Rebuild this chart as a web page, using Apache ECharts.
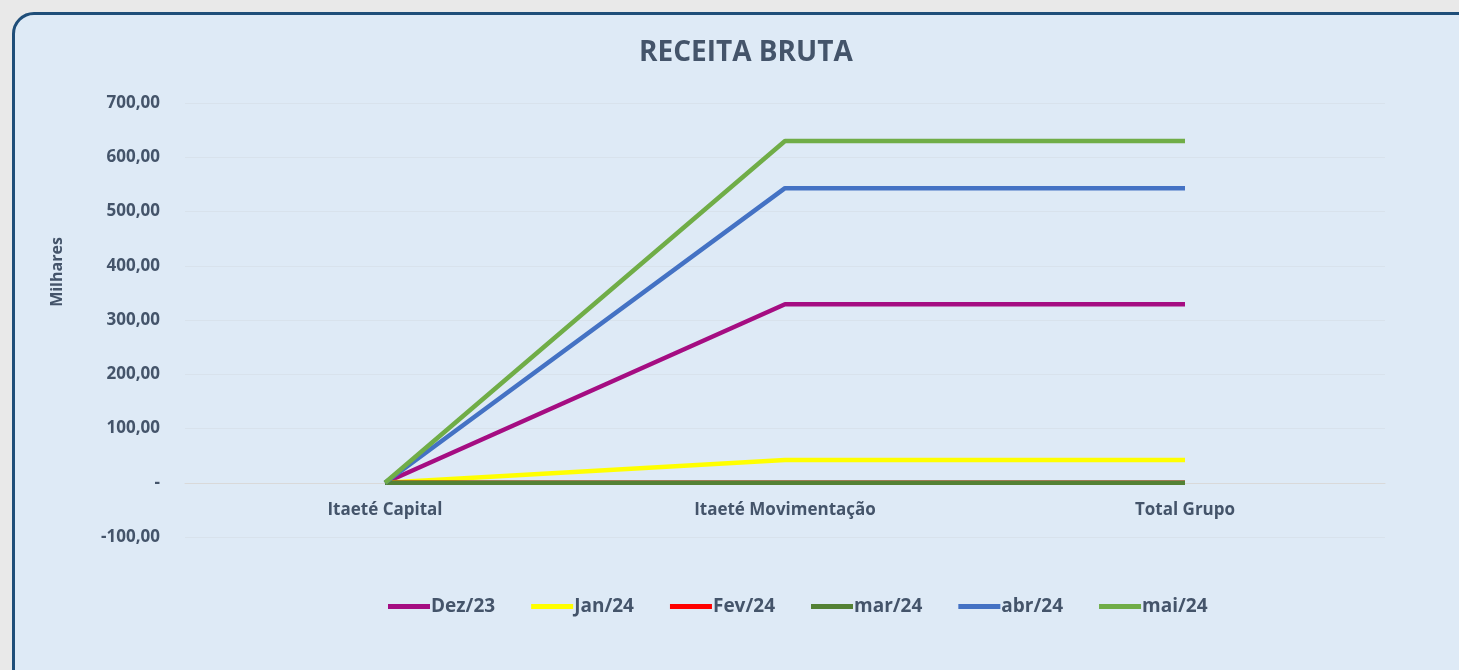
<!DOCTYPE html>
<html><head><meta charset="utf-8">
<script src="https://cdn.jsdelivr.net/npm/echarts@6/dist/echarts.min.js"></script>
<style>
html,body{margin:0;padding:0;width:1459px;height:670px;overflow:hidden;background:#e9e9e9;}
#box{position:absolute;left:12px;top:12px;width:1480px;height:700px;border:3px solid #1f4e79;border-radius:22px;background:#deeaf6;box-sizing:border-box;}
#chart{position:absolute;left:0;top:0;width:1459px;height:670px;}
</style></head>
<body><div id="box"></div><div id="chart"></div>
<script>
const categories = ['Itaeté Capital', 'Itaeté Movimentação', 'Total Grupo'];
const seriesNames = ['Dez/23', 'Jan/24', 'Fev/24', 'mar/24', 'abr/24', 'mai/24'];
const dez23 = [0, 329, 329];
const jan24 = [0, 42, 42];
const fev24 = [0, 0, 0];
const mar24 = [0, 0, 0];
const abr24 = [0, 543, 543];
const mai24 = [0, 630, 630];
const colors = ['#a50d82', '#ffff00', '#ff0000', '#538135', '#4472c4', '#70ad47'];
const yTicks = { min: -100, max: 700, interval: 100 };

const dataSets = [dez23, jan24, fev24, mar24, abr24, mai24];
const txt = '#44546a';
const chart = echarts.init(document.getElementById('chart'));
chart.setOption({
  backgroundColor: 'transparent',
  color: colors,
  title: { text: 'RECEITA BRUTA', left: 634, top: 34,
    textStyle: { fontFamily: 'Open Sans', fontWeight: 'bold', fontSize: 28, color: txt } },
  grid: { left: 185, right: 74, top: 103, bottom: 133 },
  graphic: [{
    type: 'text', x: 57, y: 272, rotation: Math.PI / 2,
    style: { text: 'Milhares', fill: txt, font: 'bold 16px "Open Sans"', align: 'center', verticalAlign: 'middle' }
  }],
  xAxis: {
    type: 'category', data: categories, boundaryGap: true, offset: -54,
    axisLine: { onZero: false, lineStyle: { color: '#d9d9d9', width: 1 } },
    axisTick: { show: false },
    axisLabel: { margin: 19, color: txt, fontFamily: 'Open Sans', fontWeight: 'bold', fontSize: 17 }
  },
  yAxis: {
    type: 'value', min: yTicks.min, max: yTicks.max, interval: yTicks.interval,
    axisLine: { show: false }, axisTick: { show: false },
    splitLine: { lineStyle: { color: '#d8e2ec', width: 1 } },
    axisLabel: { margin: 25, color: txt, fontFamily: 'Open Sans', fontWeight: 'bold', fontSize: 17,
      formatter: v => v === 0 ? '-' : v.toFixed(2).replace('.', ',') }
  },
  legend: {
    top: 592, left: 383, itemGap: 36, itemWidth: 42, itemHeight: 5, icon: 'rect',
    data: seriesNames,
    textStyle: { color: txt, fontFamily: 'Open Sans', fontWeight: 'bold', fontSize: 19, padding: [0,0,0,-4] }
  },
  series: seriesNames.map((n, i) => ({
    name: n, type: 'line', data: dataSets[i], symbol: 'none', smooth: false,
    lineStyle: { width: 4.5, color: colors[i] }, itemStyle: { color: colors[i] }
  }))
});
</script></body></html>
